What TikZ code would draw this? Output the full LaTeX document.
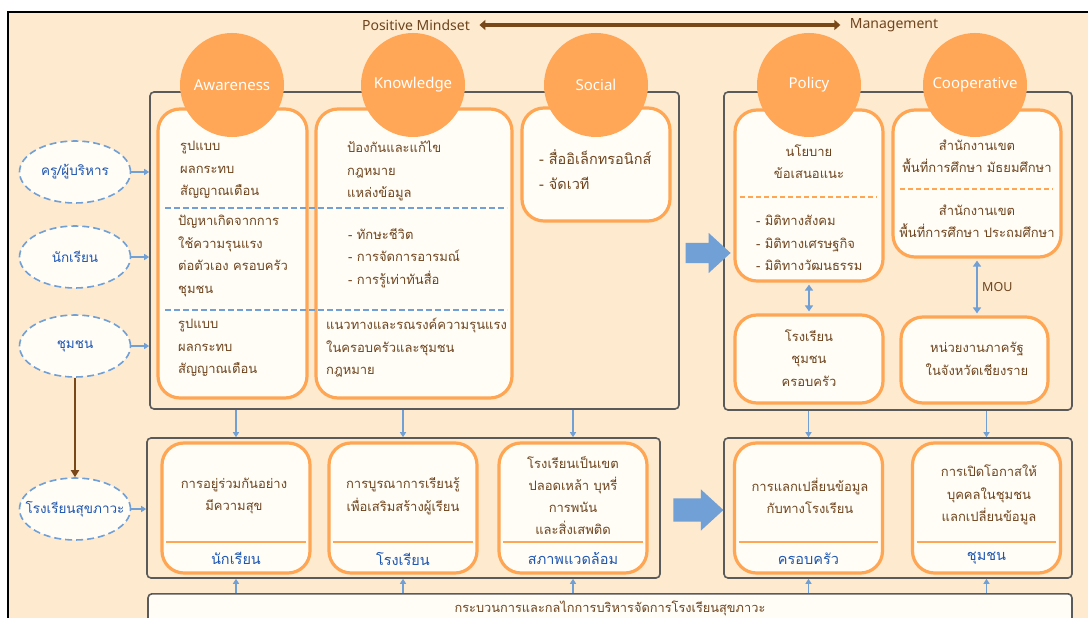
\documentclass[tikz,border=0pt]{standalone}
\usepackage{fontspec}
\setmainfont{Noto Sans}
\newfontfamily\thaifont[Script=Thai]{Loma}
\usetikzlibrary{arrows.meta,shapes.geometric,shapes.arrows}
\definecolor{bgpeach}{RGB}{253,234,207}
\definecolor{cardfill}{RGB}{255,253,246}
\definecolor{topicorange}{RGB}{255,167,87}
\definecolor{cardrim}{RGB}{255,166,84}
\definecolor{groupgray}{RGB}{90,90,90}
\definecolor{linkblue}{RGB}{112,160,214}
\definecolor{textbrown}{RGB}{110,68,30}
\definecolor{labelblue}{RGB}{30,86,176}
\definecolor{arrowbrown}{RGB}{120,72,24}
\tikzset{
	group/.style = {draw=groupgray, line width=1.6pt, rounded corners=4pt, inner sep=0pt},
	card/.style = {draw=cardrim, fill=cardfill, line width=3.2pt, rounded corners=22pt, 
		inner sep=0pt, minimum width=148pt},
	topic/.style = {circle, fill=topicorange, text=white, inner sep=0pt, minimum size=104pt, 
		font=\fontsize{15}{17}\selectfont},
	actor/.style = {ellipse, draw=linkblue, fill=cardfill, line width=1.6pt, 
		dash pattern=on 7pt off 4pt, inner sep=0pt, minimum width=111pt, minimum height=62pt},
	actortext/.style = {text=labelblue, inner sep=0pt, font=\thaifont\fontsize{13.5}{15}\selectfont},
	txt/.style = {text=textbrown, inner sep=0pt, font=\thaifont\fontsize{13}{22.5}\selectfont},
	unit/.style = {text=labelblue, inner sep=0pt, font=\thaifont\fontsize{14.5}{16}\selectfont},
	bigarrow/.style = {single arrow, fill=linkblue, draw=none, inner xsep=0pt, 
		single arrow tip angle=85},
	link/.style = {draw=linkblue, line width=1.4pt, -{Triangle[length=5pt,width=6pt]}},
	twoway/.style = {draw=linkblue, line width=1.8pt, 
		{Triangle[length=6pt,width=8pt]}-{Triangle[length=6pt,width=8pt]}, shorten <=2pt, shorten >=2pt},
	sepline/.style = {draw=linkblue, line width=1.8pt, dash pattern=on 6pt off 3pt},
	rimdash/.style = {draw=cardrim, line width=1.8pt, dash pattern=on 5pt off 3pt},
	rimsolid/.style = {draw=cardrim, line width=2pt}
}

\begin{document}
\begin{tikzpicture}[x=1pt, y=-1pt]
\path[use as bounding box, clip] (0,0) rectangle (1088,618);
\draw[line width=1.5pt, fill=bgpeach] (8,12) rectangle (1110,640);
%----------------- Title --------------
\node (pm) [text=textbrown, font=\fontsize{14}{16}\selectfont] at (416,25) {Positive Mindset};
\node (mg) [text=textbrown, font=\fontsize{14}{16}\selectfont] at (894,25) {Management};
\draw[draw=arrowbrown, line width=3.5pt, shorten <=6pt, shorten >=6pt,
	{Triangle[length=6pt,width=10pt]}-{Triangle[length=6pt,width=10pt]}] (pm) -- (mg);
%----------------- Groups --------------
\node (gA) [group, minimum width=529pt, minimum height=317pt] at (414.5,250.5) {};
\node (gB) [group, minimum width=348pt, minimum height=318pt] at (898,251) {};
\node (gC) [group, minimum width=513pt, minimum height=140pt] at (403.5,508) {};
\node (gD) [group, minimum width=348pt, minimum height=140pt] at (898,508) {};
\node (bar) [group, fill=cardfill, minimum width=924pt, minimum height=60pt, anchor=north] at (610,593) {};
\node (bart) [txt, font=\thaifont\fontsize{12.8}{15}\selectfont] at (610,608) {กระบวนการและกลไกการบริหารจัดการโรงเรียนสุขภาวะ};
%----------------- Upper cards --------------
\node (aw) [card, minimum width=149pt, minimum height=289pt] at (232.5,253.5) {};
\node (kn) [card, minimum width=196pt, minimum height=289pt] at (414,253.5) {};
\node (so) [card, minimum height=113pt] at (596,164.5) {};
\node (po) [card, minimum height=171pt] at (809,195.5) {};
\node (co) [card, minimum width=168pt, minimum height=147pt] at (977,183.5) {};
\node (pl) [card, minimum height=88pt] at (809,359) {};
\node (cl) [card, minimum width=147pt, minimum height=86pt] at (974.5,360) {};
\draw[sepline] (165,208) -- (507,208);
\draw[sepline] (165,310) -- (507,310);
\draw[rimdash] (740,197) -- (877,197);
\draw[rimdash] (900,189) -- (1053,189);
\node (aw1) [txt, align=left, anchor=west] at (180,170) {รูปแบบ\\ผลกระทบ\\สัญญาณเตือน};
\node (aw2) [txt, align=left, anchor=west] at (178,256) {ปัญหาเกิดจากการ\\ใช้ความรุนแรง\\ต่อตัวเอง ครอบครัว\\ชุมชน};
\node (aw3) [txt, align=left, anchor=west] at (178,348) {รูปแบบ\\ผลกระทบ\\สัญญาณเตือน};
\node (kn1) [txt, align=left, anchor=west] at (347,171) {ป้องกันและแก้ไข\\กฎหมาย\\แหล่งข้อมูล};
\node (kn2) [txt, align=left, anchor=west] at (348,258) {- ทักษะชีวิต\\- การจัดการอารมณ์\\- การรู้เท่าทันสื่อ};
\node (kn3) [txt, align=left, anchor=west] at (326,348) {แนวทางและรณรงค์ความรุนแรง\\ในครอบครัวและชุมชน\\กฎหมาย};
\node (so1) [txt, align=left, anchor=west, font=\thaifont\fontsize{14.5}{25}\selectfont] at (539,170) {- สื่ออิเล็กทรอนิกส์\\- จัดเวที};
\node (po1) [txt, align=center] at (809,161.5) {นโยบาย\\ข้อเสนอแนะ};
\node (po2) [txt, align=left, anchor=west] at (756,243) {- มิติทางสังคม\\- มิติทางเศรษฐกิจ\\- มิติทางวัฒนธรรม};
\node (pl1) [txt, align=center] at (809,358) {โรงเรียน\\ชุมชน\\ครอบครัว};
\node (co1) [txt, align=center] at (977,156) {สำนักงานเขต\\พื้นที่การศึกษา มัธยมศึกษา};
\node (co2) [txt, align=center] at (977,221) {สำนักงานเขต\\พื้นที่การศึกษา ประถมศึกษา};
\node (cl1) [txt, align=center] at (977,359) {หน่วยงานภาครัฐ\\ในจังหวัดเชียงราย};
%----------------- Topic circles --------------
\node (c1) [topic] at (232,85) {Awareness};
\node (c2) [topic] at (413,85) {Knowledge};
\node (c3) [topic] at (596,85) {Social};
\node (c4) [topic] at (809,85) {Policy};
\node (c5) [topic] at (975,85) {Cooperative};
\draw[twoway] (po.south) -- (pl.north);
\draw[twoway] (co.south) -- (co.south |- cl.north) node [midway, right=1pt, text=textbrown, font=\fontsize{12.5}{14}\selectfont] {MOU};
%----------------- Lower cards --------------
\node (st) [card, minimum height=130pt] at (236,508) {};
\node (sc) [card, minimum height=130pt] at (403,508) {};
\node (en) [card, minimum height=130pt] at (573,508) {};
\node (fa) [card, minimum height=130pt] at (808.5,508) {};
\node (cm) [card, minimum height=130pt] at (986.5,508) {};
\draw[rimsolid] ([shift={(6pt,33pt)}]st.south west) -- ([shift={(-6pt,33pt)}]st.south east);
\draw[rimsolid] ([shift={(6pt,33pt)}]sc.south west) -- ([shift={(-6pt,33pt)}]sc.south east);
\draw[rimsolid] ([shift={(6pt,33pt)}]en.south west) -- ([shift={(-6pt,33pt)}]en.south east);
\draw[rimsolid] ([shift={(6pt,33pt)}]fa.south west) -- ([shift={(-6pt,33pt)}]fa.south east);
\draw[rimsolid] ([shift={(6pt,33pt)}]cm.south west) -- ([shift={(-6pt,33pt)}]cm.south east);
\node (st1) [txt, align=center] at (234,496) {การอยู่ร่วมกันอย่าง\\มีความสุข};
\node (sc1) [txt, align=center] at (403,496) {การบูรณาการเรียนรู้\\เพื่อเสริมสร้างผู้เรียน};
\node (en1) [txt, align=center, font=\thaifont\fontsize{13}{21.7}\selectfont] at (573,495.5) {โรงเรียนเป็นเขต\\ปลอดเหล้า บุหรี่\\การพนัน\\และสิ่งเสพติด};
\node (fa1) [txt, align=center] at (810,496) {การแลกเปลี่ยนข้อมูล\\กับทางโรงเรียน};
\node (cm1) [txt, align=center] at (989,495) {การเปิดโอกาสให้\\บุคคลในชุมชน\\แลกเปลี่ยนข้อมูล};
\node (stl) [unit] at ([yshift=16pt]st.south) {นักเรียน};
\node (scl) [unit] at ([yshift=16pt]sc.south) {โรงเรียน};
\node (enl) [unit] at ([yshift=16pt]en.south) {สภาพแวดล้อม};
\node (fal) [unit] at ([yshift=16pt]fa.south) {ครอบครัว};
\node (cml) [unit] at ([yshift=16pt]cm.south) {ชุมชน};
%----------------- Block arrows --------------
\node (ba1) [bigarrow, minimum height=45pt, inner ysep=10pt, single arrow head extend=10pt] at (702.5,253) {};
\node (ba2) [bigarrow, minimum height=50pt, inner ysep=11.5pt, single arrow head extend=9pt] at (692,510) {};
%----------------- Actors --------------
\node (e1) [actor, label={[actortext]center:ครู/ผู้บริหาร}] at (75,172) {};
\node (e2) [actor, label={[actortext]center:นักเรียน}] at (75,257) {};
\node (e3) [actor, label={[actortext]center:ชุมชน}] at (75,346) {};
\node (e4) [actor, label={[actortext]center:โรงเรียนสุขภาวะ}] at (75,509) {};
\draw[link] (e1.east) -- (e1.east -| gA.west);
\draw[link] (e2.east) -- (e2.east -| gA.west);
\draw[link] (e3.east) -- (e3.east -| gA.west);
\draw[link] (e4.east) -- (e4.east -| gC.west);
\draw[draw=arrowbrown, line width=2pt, -{Triangle[length=7pt,width=8pt]}] (e3.south) -- (e4.north);
%----------------- Arrows between rows --------------
\draw[link] (st.north |- gA.south) -- (st.north |- gC.north);
\draw[link] (sc.north |- gA.south) -- (sc.north |- gC.north);
\draw[link] (en.north |- gA.south) -- (en.north |- gC.north);
\draw[link] (fa.north |- gB.south) -- (fa.north |- gD.north);
\draw[link] (cm.north |- gB.south) -- (cm.north |- gD.north);
\draw[link] (st.south |- bar.north) -- (st.south |- gC.south);
\draw[link] (sc.south |- bar.north) -- (sc.south |- gC.south);
\draw[link] (en.south |- bar.north) -- (en.south |- gC.south);
\draw[link] (fa.south |- bar.north) -- (fa.south |- gD.south);
\draw[link] (cm.south |- bar.north) -- (cm.south |- gD.south);
\end{tikzpicture}
\end{document}
